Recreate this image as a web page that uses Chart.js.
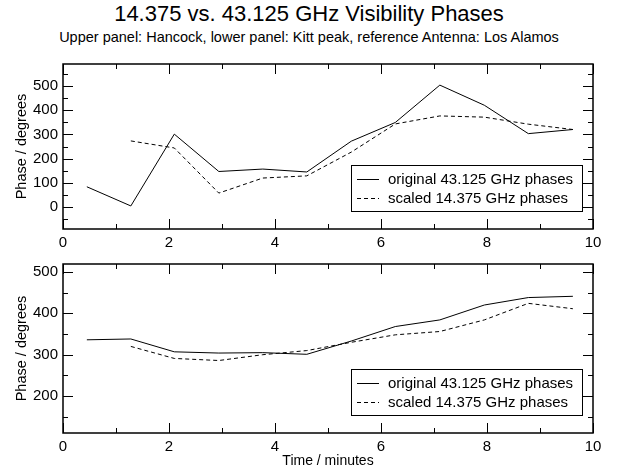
<!DOCTYPE html>
<html>
<head>
<meta charset="utf-8">
<script src="https://cdn.jsdelivr.net/npm/chart.js@4"></script>
<style>
  html, body { margin: 0; padding: 0; background: #fff; }
  body { width: 618px; height: 470px; position: relative; overflow: hidden; font-family: "Liberation Sans", Arial, sans-serif; }
  .title { position: absolute; left: 0; width: 618px; text-align: center; color: #000; white-space: nowrap; }
  #mainTitle { top: 1px; font-size: 22px; }
  #subTitle { top: 29px; font-size: 14.5px; }
  .panel { position: absolute; left: 0; width: 618px; }
  #upperWrap { top: 50px; height: 200px; }
  #lowerWrap { top: 250px; height: 220px; }
</style>
</head>
<body>
<div class="title" id="mainTitle">14.375 vs. 43.125 GHz Visibility Phases</div>
<div class="title" id="subTitle">Upper panel: Hancock, lower panel: Kitt peak, reference Antenna: Los Alamos</div>
<div class="panel" id="upperWrap"><canvas id="upperChart" width="618" height="200"></canvas></div>
<div class="panel" id="lowerWrap"><canvas id="lowerChart" width="618" height="220"></canvas></div>

<script>
// ─── Data ─────────────────────────────────────────────────────────────────────

const timeMinutes = [0.45, 1.28, 2.1, 2.94, 3.77, 4.6, 5.44, 6.27, 7.11, 7.95, 8.78, 9.62];

// Upper panel: Hancock
const upperOriginal = [84, 5, 301, 147, 157, 145, 272, 349, 503, 420, 303, 320];
const upperScaled   = [null, 273, 244, 58, 120, 129, 227, 343, 376, 371, 342, 320];

// Lower panel: Kitt peak
const lowerOriginal = [336, 338, 307, 304, 305, 301, 333, 368, 384, 420, 438, 441];
const lowerScaled   = [null, 320, 291, 286, 300, 310, 330, 348, 356, 384, 424, 411];

const seriesLabels = ['original 43.125 GHz phases', 'scaled 14.375 GHz phases'];

const xMajorTicks = [0, 2, 4, 6, 8, 10];
const xMinorTicks = [1, 3, 5, 7, 9];
const upperYMajor = [0, 100, 200, 300, 400, 500];
const upperYMinor = [-50, 50, 150, 250, 350, 450, 550];
const lowerYMajor = [200, 300, 400, 500];
const lowerYMinor = [150, 250, 350, 450];

// ─── Helpers ──────────────────────────────────────────────────────────────────

const FONT = '"Liberation Sans", Arial, sans-serif';

function toPoints(values) {
  const pts = [];
  values.forEach((v, i) => {
    if (v !== null) pts.push({ x: timeMinutes[i], y: v });
  });
  return pts;
}

// Frame + inward ticks on all four sides
const framePlugin = {
  id: 'frame',
  afterDatasetsDraw(chart, args, opts) {
    const { ctx, chartArea: a, scales } = chart;
    const x = scales.x, y = scales.y;
    ctx.save();
    ctx.strokeStyle = '#000';
    ctx.lineWidth = 1;
    ctx.beginPath();
    const xTick = (v, len) => {
      const px = Math.round(x.getPixelForValue(v)) + 0.5;
      ctx.moveTo(px, a.bottom); ctx.lineTo(px, a.bottom - len);
      ctx.moveTo(px, a.top); ctx.lineTo(px, a.top + len);
    };
    const yTick = (v, len) => {
      const py = Math.round(y.getPixelForValue(v)) + 0.5;
      ctx.moveTo(a.left, py); ctx.lineTo(a.left + len, py);
      ctx.moveTo(a.right, py); ctx.lineTo(a.right - len, py);
    };
    xMajorTicks.forEach(v => xTick(v, 10));
    xMinorTicks.forEach(v => xTick(v, 5));
    opts.yMajor.forEach(v => yTick(v, 10));
    opts.yMinor.forEach(v => yTick(v, 5));
    ctx.stroke();
    ctx.lineWidth = 1.5;
    ctx.strokeRect(a.left, a.top, a.right - a.left, a.bottom - a.top);
    ctx.restore();
  },
};

// Boxed legend in lower right of the plot area
const boxLegendPlugin = {
  id: 'boxLegend',
  afterDraw(chart, args, opts) {
    const { ctx, chartArea: a } = chart;
    const w = 231, h = 46;
    const left = a.right - 11 - w;
    const top = a.bottom - 18 - h;
    ctx.save();
    ctx.fillStyle = '#fff';
    ctx.fillRect(left, top, w, h);
    ctx.strokeStyle = '#000';
    ctx.lineWidth = 1;
    ctx.strokeRect(left + 0.5, top + 0.5, w, h);
    ctx.font = '15px ' + FONT;
    ctx.fillStyle = '#000';
    ctx.textBaseline = 'middle';
    chart.data.datasets.forEach((ds, i) => {
      const cy = Math.round(top + 14 + i * 19) + 0.5;
      ctx.beginPath();
      ctx.setLineDash(ds.borderDash || []);
      ctx.moveTo(left + 6, cy);
      ctx.lineTo(left + 28, cy);
      ctx.stroke();
      ctx.setLineDash([]);
      ctx.fillText(ds.label, left + 37, cy);
    });
    ctx.restore();
  },
};

function makeChart(canvasId, original, scaled, yMin, yMax, yMajor, yMinor, padTop, xHeight, showXTitle) {
  return new Chart(document.getElementById(canvasId), {
    type: 'line',
    data: {
      datasets: [
        { label: seriesLabels[0], data: toPoints(original), borderColor: '#000', borderWidth: 1, pointRadius: 0, tension: 0 },
        { label: seriesLabels[1], data: toPoints(scaled), borderColor: '#000', borderWidth: 1, borderDash: [4, 3], pointRadius: 0, tension: 0 },
      ],
    },
    options: {
      responsive: false,
      animation: false,
      layout: { padding: { top: padTop, right: 25, left: 0, bottom: 0 } },
      plugins: {
        legend: { display: false },
        tooltip: { enabled: false },
        frame: { yMajor: yMajor, yMinor: yMinor },
      },
      scales: {
        x: {
          type: 'linear', min: 0, max: 10,
          afterBuildTicks: s => { s.ticks = xMajorTicks.map(v => ({ value: v })); },
          afterFit: s => { s.height = xHeight; },
          grid: { display: false, drawTicks: false },
          border: { display: false },
          ticks: { color: '#000', padding: 5, font: { family: FONT, size: 15 } },
          title: { display: showXTitle, text: 'Time / minutes', color: '#000', font: { family: FONT, size: 14 }, padding: { top: 0, bottom: 0 } },
        },
        y: {
          type: 'linear', min: yMin, max: yMax,
          afterBuildTicks: s => { s.ticks = yMajor.map(v => ({ value: v })); },
          afterFit: s => { s.width = 63; },
          grid: { display: false, drawTicks: false },
          border: { display: false },
          ticks: { color: '#000', padding: 5, font: { family: FONT, size: 15 } },
          title: { display: true, text: 'Phase / degrees', color: '#000', font: { family: FONT, size: 14.5 }, padding: { top: 13, bottom: 0 } },
        },
      },
    },
    plugins: [framePlugin, boxLegendPlugin],
  });
}

makeChart('upperChart', upperOriginal, upperScaled, -90, 590, upperYMajor, upperYMinor, 9, 21, false);
makeChart('lowerChart', lowerOriginal, lowerScaled, 111, 519, lowerYMajor, lowerYMinor, 13, 37, true);
</script>
</body>
</html>
